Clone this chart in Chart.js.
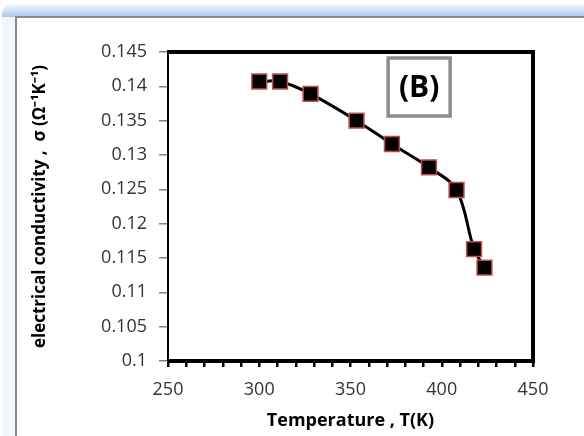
<!DOCTYPE html>
<html>
<head>
<meta charset="utf-8">
<script src="https://cdn.jsdelivr.net/npm/chart.js@4/dist/chart.umd.min.js"></script>
<style>
  html, body { margin: 0; padding: 0; background: #fff; }
  #wrap { position: relative; width: 584px; height: 436px; overflow: hidden; }
  #glow { position: absolute; left: 2px; top: 4px; width: 640px; height: 500px;
          background: linear-gradient(90deg, #f2f7fe, #a9c8f0); border-radius: 10px; }
  #glowTop { position: absolute; left: 2px; top: 4px; width: 640px; height: 13px;
          background: linear-gradient(180deg, #f2f7fe, #a9c8f0); border-radius: 10px 0 0 0; }
  #panel { position: absolute; left: 15px; top: 16px; width: 600px; height: 460px;
           background: #fff; border-left: 2px solid #8a8a8a; border-top: 2px solid #8a8a8a; }
  #chartBox { position: absolute; left: 0; top: 0; width: 584px; height: 436px; }
</style>
</head>
<body>
<div id="wrap">
  <div id="glow"></div>
  <div id="glowTop"></div>
  <div id="panel"></div>
  <div id="chartBox"><canvas id="myChart"></canvas></div>
</div>
<script>
// Data
const temperature = [300, 311.4, 328.1, 353.3, 372.7, 393, 408.1, 417.7, 423.4];
const conductivity = [0.1407, 0.1407, 0.1389, 0.1350, 0.1316, 0.1282, 0.1249, 0.1163, 0.1136];
const xTickLabels = [250, 300, 350, 400, 450];
const yTickLabels = [0.1, 0.105, 0.11, 0.115, 0.12, 0.125, 0.13, 0.135, 0.14, 0.145];
const panelLabel = '(B)';

const tickFont = { family: 'Open Sans', size: 18 };
const titleFont = { family: 'Open Sans', size: 17, weight: 'bold' };

// frame around the plot area + the (B) box
const framePlugin = {
  id: 'frame',
  afterDraw(chart) {
    const { ctx, chartArea: a, scales } = chart;
    ctx.save();
    ctx.strokeStyle = '#000';
    ctx.lineWidth = 4;
    ctx.beginPath();
    ctx.moveTo(a.left, a.top);
    ctx.lineTo(a.right, a.top);
    ctx.lineTo(a.right, a.bottom);
    ctx.lineTo(a.left, a.bottom);
    ctx.stroke();
    ctx.lineWidth = 2;
    ctx.beginPath();
    ctx.moveTo(a.left, a.top - 2);
    ctx.lineTo(a.left, a.bottom);
    ctx.stroke();

    // label box
    const cx = scales.x.getPixelForValue(387.6);
    const cy = scales.y.getPixelForValue(0.1399);
    ctx.strokeStyle = '#8c8c8c';
    ctx.lineWidth = 3.5;
    ctx.strokeRect(cx - 31, cy - 29, 62, 58);
    ctx.fillStyle = '#000';
    ctx.font = 'bold 30px "Open Sans"';
    ctx.textAlign = 'center';
    ctx.textBaseline = 'middle';
    ctx.fillText(panelLabel, cx, cy + 1);
    ctx.restore();
  }
};

new Chart(document.getElementById('myChart'), {
  type: 'line',
  data: {
    datasets: [{
      data: temperature.map((t, i) => ({ x: t, y: conductivity[i] })),
      borderColor: '#000',
      borderWidth: 3,
      tension: 0.35,
      pointStyle: 'rect',
      pointRadius: 10.5,
      pointBackgroundColor: '#000',
      pointBorderColor: '#c0504d',
      pointBorderWidth: 1.5
    }]
  },
  options: {
    responsive: true,
    maintainAspectRatio: false,
    animation: false,
    events: [],
    layout: { padding: { left: 20, right: 51, top: 52, bottom: 0 } },
    plugins: { legend: { display: false }, tooltip: { enabled: false } },
    scales: {
      x: {
        type: 'linear',
        min: 250, max: 450,
        afterFit(scale) { scale.height = 75; },
        afterBuildTicks(scale) {
          const t = [];
          for (let v = 250; v <= 450; v += 10) t.push({ value: v });
          scale.ticks = t;
        },
        ticks: {
          autoSkip: false, maxRotation: 0, padding: 12,
          color: '#333333', font: tickFont,
          callback: v => xTickLabels.includes(v) ? String(v) : ''
        },
        grid: { drawOnChartArea: false, drawTicks: true, tickLength: 6, color: '#000', lineWidth: 2.5 },
        border: { display: false },
        title: { display: true, text: 'Temperature , T(K)', color: '#000', font: { family: 'Open Sans', size: 18, weight: 'bold' }, padding: { top: 4, bottom: 4 } }
      },
      y: {
        min: 0.1, max: 0.145,
        afterFit(scale) { scale.width = 148; },
        afterBuildTicks(scale) { scale.ticks = yTickLabels.map(v => ({ value: v })); },
        ticks: {
          autoSkip: false, padding: 12,
          color: '#333333', font: tickFont,
          callback: v => String(Number(v.toFixed(3)))
        },
        grid: { drawOnChartArea: false, drawTicks: true, tickLength: 9, color: '#808080', lineWidth: 1.5 },
        border: { display: false },
        title: { display: true, text: 'electrical conductivity ,  σ (Ω⁻¹K⁻¹)', color: '#000', font: titleFont, padding: { top: 10, bottom: 0 } }
      }
    }
  },
  plugins: [framePlugin]
});
</script>
</body>
</html>
